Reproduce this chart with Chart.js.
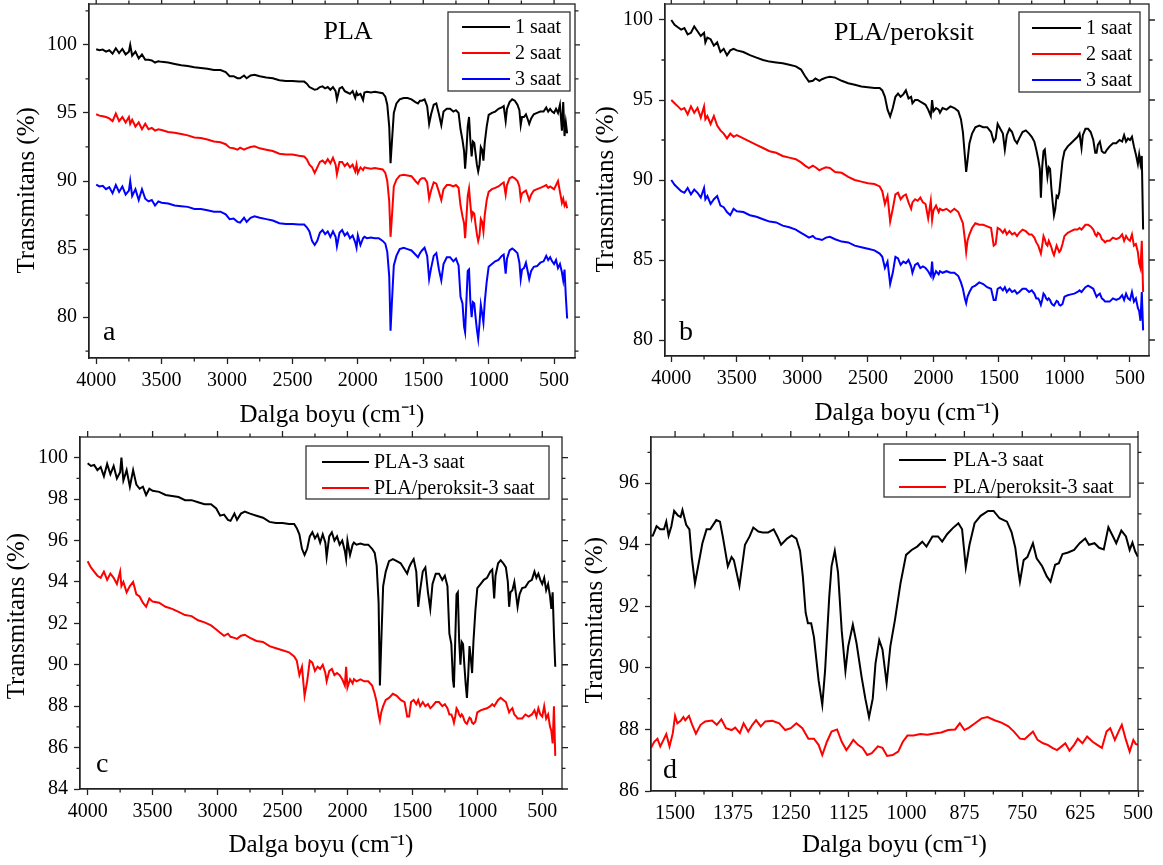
<!DOCTYPE html>
<html><head><meta charset="utf-8">
<script src="https://cdn.jsdelivr.net/npm/chart.js@4.4.0/dist/chart.umd.min.js"></script>
<style>
html,body{margin:0;padding:0;background:#fff;width:1163px;height:865px;overflow:hidden}
canvas{position:absolute}
</style></head><body>
<canvas id="ca" width="580" height="430" style="left:0;top:0"></canvas>
<canvas id="cb" width="583" height="430" style="left:580px;top:0"></canvas>
<canvas id="cc" width="580" height="435" style="left:0;top:430px"></canvas>
<canvas id="cd" width="583" height="435" style="left:580px;top:430px"></canvas>
<script>
// ---------- DATA ----------
const wavenumbers = [
4000,3975,3950,3925,3900,3875,3850,3825,3800,3775,
3750,3740,3725,3700,3675,3650,3625,3600,3575,3550,
3525,3500,3450,3400,3350,3300,3250,3200,3150,3100,
3050,3010,2980,2950,2920,2900,2870,2850,2820,2790,
2750,2700,2650,2600,2550,2500,2450,2410,2390,2370,
2350,2330,2310,2290,2270,2250,2230,2210,2190,2170,
2160,2140,2120,2100,2080,2060,2040,2020,2010,2000,
1980,1960,1950,1930,1900,1870,1840,1810,1790,1775,
1760,1750,1740,1725,1705,1680,1650,1620,1590,1560,
1540,1525,1510,1490,1470,1455,1440,1420,1400,1380,
1362,1345,1320,1295,1270,1250,1230,1215,1200,1188,
1180,1170,1160,1150,1140,1130,1120,1110,1100,1090,
1080,1070,1060,1050,1040,1030,1015,1000,975,950,
925,900,885,870,860,840,820,800,780,765,
755,745,730,715,700,690,675,655,630,605,
580,560,545,530,515,500,485,470,455,440,
430,420,410,400];

// Panel a (PLA)
const plaSaat1 = [
99.68,99.6,99.65,99.5,99.6,99.35,99.75,99.4,99.7,99.3,
99.5,100.0,99.2,99.5,99.0,99.3,98.9,98.9,98.85,98.7,
98.8,98.75,98.7,98.6,98.5,98.45,98.35,98.3,98.25,98.15,
98.15,98.0,97.7,97.7,97.55,97.55,97.75,97.55,97.75,97.8,
97.7,97.6,97.55,97.4,97.35,97.35,97.3,97.3,97.15,96.9,
96.8,96.7,96.75,96.9,96.95,96.8,96.9,96.7,96.9,96.6,
96.0,96.8,96.9,96.6,96.5,96.4,96.6,96.1,96.5,96.3,
96.4,95.95,96.5,96.55,96.5,96.55,96.5,96.45,96.2,95.6,
94.0,91.3,92.8,95.0,95.7,96.0,96.1,96.1,96.0,95.8,
95.7,95.9,95.9,96.0,95.5,94.2,94.9,95.6,95.7,94.9,
94.1,95.1,95.3,95.3,95.1,95.2,95.0,93.8,93.0,92.2,
90.9,92.2,94.0,94.7,93.0,91.8,92.9,92.8,92.0,91.2,
90.7,91.2,92.5,92.3,91.5,92.8,94.0,94.85,95.0,95.1,
95.3,95.4,95.5,94.4,95.3,95.8,96.0,95.9,95.6,95.2,
94.1,94.7,94.7,94.9,94.5,94.2,94.6,94.9,95.0,95.1,
95.1,95.4,95.1,95.3,95.1,95.0,95.3,95.0,95.6,93.7,
95.8,93.3,94.3,93.5];
const plaSaat2 = [
94.9,94.8,94.75,94.7,94.6,94.4,94.95,94.4,94.7,94.3,
94.7,94.2,94.5,94.0,94.3,93.8,94.2,93.8,93.9,93.7,
93.8,93.75,93.6,93.55,93.45,93.35,93.2,93.15,93.05,92.9,
92.85,92.7,92.45,92.4,92.3,92.45,92.3,92.4,92.5,92.55,
92.4,92.3,92.2,92.0,91.95,91.95,91.85,91.8,91.6,91.2,
91.0,90.6,91.0,91.4,91.5,91.3,91.6,91.3,91.7,91.2,
90.5,91.4,91.4,91.1,91.3,91.0,91.2,90.7,91.2,90.6,
91.0,90.8,91.0,90.95,90.9,90.95,90.9,90.85,90.6,90.0,
88.5,85.9,87.3,89.6,90.1,90.4,90.45,90.4,90.35,90.0,
89.8,90.1,90.2,90.2,89.9,88.7,89.3,89.9,89.8,89.2,
88.6,89.4,89.7,89.7,89.6,89.7,89.5,88.2,87.4,86.9,
85.8,87.3,88.9,89.45,88.3,87.3,87.7,87.6,86.8,86.1,
85.6,86.0,87.2,87.0,86.3,87.5,88.6,89.2,89.4,89.5,
89.6,89.8,89.9,89.0,89.7,90.2,90.3,90.2,90.0,89.6,
88.7,89.1,89.2,89.3,88.9,88.6,89.0,89.3,89.4,89.5,
89.6,89.7,89.5,89.6,89.5,89.4,89.7,90.0,89.2,88.4,
88.7,88.2,88.4,88.0];
const plaSaat3 = [
89.73,89.6,89.65,89.4,89.55,89.1,89.7,89.2,89.6,89.0,
89.3,90.0,88.9,89.4,88.6,89.4,88.7,88.5,88.6,88.2,
88.5,88.4,88.35,88.2,88.15,88.1,87.95,87.95,87.85,87.75,
87.75,87.55,87.2,87.25,87.0,86.95,87.3,87.0,87.3,87.4,
87.3,87.2,87.1,86.9,86.85,86.85,86.8,86.8,86.6,86.3,
85.6,85.3,85.6,86.2,86.4,86.1,86.3,85.9,86.3,85.9,
85.2,86.2,86.4,86.0,86.2,85.8,86.0,85.5,85.1,86.0,
85.3,85.8,85.9,85.8,85.85,85.8,85.8,85.6,85.4,84.8,
83.0,79.0,81.0,83.8,84.5,85.0,85.1,85.0,84.9,84.6,
84.4,84.7,84.9,85.1,84.5,82.8,83.6,84.5,84.7,83.5,
82.7,83.9,84.4,84.4,84.1,84.3,83.8,81.5,81.0,79.3,
78.9,81.2,83.4,83.5,81.2,80.0,81.1,81.0,80.0,79.1,
78.4,79.5,80.9,80.3,79.6,81.1,82.6,83.7,83.9,84.1,
84.2,84.5,84.6,83.2,84.3,84.9,85.05,84.9,84.7,84.0,
82.8,83.5,83.6,84.0,83.3,82.8,83.4,83.7,83.75,84.0,
84.1,84.5,84.2,84.4,84.1,83.9,84.2,83.6,83.9,83.3,
82.7,83.5,81.5,79.9];

// Panel b (PLA/peroksit)
const perSaat1 = [
100.0,99.7,99.55,99.4,99.5,99.1,99.2,99.6,99.3,99.0,
99.2,98.6,98.9,98.8,98.4,98.6,98.0,98.2,97.8,98.1,
98.2,98.1,98.0,97.8,97.65,97.5,97.4,97.35,97.3,97.2,
97.1,96.9,96.5,96.15,96.2,96.35,96.2,96.3,96.4,96.45,
96.4,96.2,96.05,95.95,95.85,95.8,95.75,95.75,95.6,95.2,
94.4,93.97,94.5,95.2,95.4,95.2,95.35,95.6,95.1,95.2,
94.8,95.0,95.0,94.9,94.8,94.7,94.4,94.0,95.0,94.3,
94.5,94.4,94.2,94.5,94.4,94.6,94.5,94.3,93.8,93.0,
91.5,90.5,91.2,92.3,92.9,93.3,93.4,93.3,93.3,93.0,
92.4,92.6,93.5,93.2,92.9,91.9,92.8,93.2,93.0,92.5,
92.3,92.6,93.0,93.1,92.9,92.7,92.4,91.9,91.3,90.7,
88.9,90.8,91.8,91.9,91.0,90.2,90.8,90.7,89.5,88.6,
87.8,88.2,89.0,88.9,89.2,90.0,91.2,91.8,92.1,92.3,
92.5,92.7,92.9,92.0,92.8,93.2,93.2,93.0,92.5,91.7,
91.7,92.2,92.4,91.8,91.7,91.7,91.9,92.1,92.3,92.3,
92.5,92.4,92.8,92.4,92.6,92.5,92.7,92.1,91.6,91.0,
91.6,91.0,91.5,86.9];
const perSaat2 = [
95.0,94.8,94.6,94.4,94.5,94.1,94.6,94.2,94.5,93.9,
94.6,93.8,94.0,93.5,94.0,93.4,93.1,92.9,92.6,92.9,
92.7,92.8,92.6,92.4,92.2,92.0,91.8,91.7,91.5,91.4,
91.3,91.1,90.9,90.75,90.9,90.8,90.6,90.7,90.8,90.75,
90.5,90.45,90.2,90.0,89.9,89.8,89.75,89.6,89.3,88.5,
89.0,87.4,88.2,89.1,89.2,88.8,89.0,89.1,88.6,88.2,
88.6,88.8,88.7,88.9,88.6,88.5,87.6,88.7,87.5,88.1,
88.4,88.0,88.2,88.1,88.2,88.0,88.2,88.0,87.6,87.3,
86.3,85.5,86.2,86.6,87.0,87.3,87.2,87.2,87.1,87.0,
85.9,86.0,87.0,86.9,86.7,86.9,86.6,86.8,86.6,86.7,
86.5,86.7,86.9,86.8,86.6,86.6,86.4,86.1,85.9,85.6,
85.4,85.9,86.5,86.3,86.0,85.9,86.2,86.0,85.8,85.5,
85.3,85.6,85.9,85.7,85.5,85.6,86.0,86.5,86.7,86.8,
86.9,86.9,87.0,86.9,87.0,87.2,87.2,87.1,86.9,86.6,
86.5,86.7,86.6,86.3,86.2,86.1,86.2,86.2,86.4,86.3,
86.4,86.6,86.2,86.5,86.3,86.2,86.6,85.9,86.0,85.5,
84.8,84.5,86.2,83.0];
const perSaat3 = [
90.0,89.7,89.5,89.3,89.2,89.5,89.1,89.4,89.2,88.9,
89.5,88.8,89.0,88.5,88.8,89.0,88.4,88.3,88.0,87.8,
88.2,88.05,88.0,87.8,87.7,87.55,87.4,87.35,87.15,87.05,
86.9,86.7,86.55,86.4,86.5,86.35,86.3,86.25,86.4,86.45,
86.3,86.15,86.1,85.9,85.8,85.7,85.6,85.4,85.2,84.5,
84.9,83.5,84.2,85.2,85.1,84.7,84.9,84.8,85.0,84.6,
84.2,84.7,84.8,84.5,84.6,84.5,84.3,84.0,84.9,83.9,
84.3,84.1,84.3,84.2,84.3,84.2,84.2,84.0,83.6,83.2,
82.6,82.3,82.7,83.0,83.3,83.4,83.6,83.5,83.3,83.2,
82.5,82.5,83.2,83.3,83.1,83.3,83.0,83.2,83.0,83.1,
82.9,83.0,83.2,83.2,83.0,83.1,82.9,82.6,82.6,82.4,
82.2,82.5,82.9,82.8,82.6,82.5,82.6,82.5,82.3,82.2,
82.15,82.3,82.45,82.4,82.2,82.15,82.25,82.7,82.8,82.85,
82.9,83.0,83.1,83.0,83.1,83.3,83.4,83.3,83.2,82.9,
82.7,82.8,82.9,82.6,82.5,82.4,82.4,82.4,82.6,82.5,
82.6,82.8,82.5,82.9,82.6,82.5,83.0,82.4,82.6,82.0,
81.8,81.2,83.0,80.6];

// Panel c (3 saat comparison)
const cPla3 = [
99.73,99.6,99.65,99.4,99.55,99.1,99.7,99.2,99.6,99.0,
99.3,100.0,98.9,99.4,98.6,99.4,98.7,98.5,98.6,98.2,
98.5,98.4,98.35,98.2,98.15,98.1,97.95,97.95,97.85,97.75,
97.75,97.55,97.2,97.25,97.0,96.95,97.3,97.0,97.3,97.4,
97.3,97.2,97.1,96.9,96.85,96.85,96.8,96.8,96.6,96.3,
95.6,95.3,95.6,96.2,96.4,96.1,96.3,95.9,96.3,95.9,
95.2,96.2,96.4,96.0,96.2,95.8,96.0,95.5,95.1,96.0,
95.3,95.8,95.9,95.8,95.85,95.8,95.8,95.6,95.4,94.8,
93.0,89.0,91.0,93.8,94.5,95.0,95.1,95.0,94.9,94.6,
94.4,94.7,94.9,95.1,94.5,92.8,93.6,94.5,94.7,93.5,
92.7,93.9,94.4,94.4,94.1,94.3,93.8,91.5,91.0,89.3,
88.9,91.2,93.4,93.5,91.2,90.0,91.1,91.0,90.0,89.1,
88.4,89.5,90.9,90.3,89.6,91.1,92.6,93.7,93.9,94.1,
94.2,94.5,94.6,93.2,94.3,94.9,95.05,94.9,94.7,94.0,
92.8,93.5,93.6,94.0,93.3,92.8,93.4,93.7,93.75,94.0,
94.1,94.5,94.2,94.4,94.1,93.9,94.2,93.6,93.9,93.3,
92.7,93.5,91.5,89.9];
const cPer3 = [
95.0,94.7,94.5,94.3,94.2,94.5,94.1,94.4,94.2,93.9,
94.5,93.8,94.0,93.5,93.8,94.0,93.4,93.3,93.0,92.8,
93.2,93.05,93.0,92.8,92.7,92.55,92.4,92.35,92.15,92.05,
91.9,91.7,91.55,91.4,91.5,91.35,91.3,91.25,91.4,91.45,
91.3,91.15,91.1,90.9,90.8,90.7,90.6,90.4,90.2,89.5,
89.9,88.5,89.2,90.2,90.1,89.7,89.9,89.8,90.0,89.6,
89.2,89.7,89.8,89.5,89.6,89.5,89.3,89.0,89.9,88.9,
89.3,89.1,89.3,89.2,89.3,89.2,89.2,89.0,88.6,88.2,
87.6,87.3,87.7,88.0,88.3,88.4,88.6,88.5,88.3,88.2,
87.5,87.5,88.2,88.3,88.1,88.3,88.0,88.2,88.0,88.1,
87.9,88.0,88.2,88.2,88.0,88.1,87.9,87.6,87.6,87.4,
87.2,87.5,87.9,87.8,87.6,87.5,87.6,87.5,87.3,87.2,
87.15,87.3,87.45,87.4,87.2,87.15,87.25,87.7,87.8,87.85,
87.9,88.0,88.1,88.0,88.1,88.3,88.4,88.3,88.2,87.9,
87.7,87.8,87.9,87.6,87.5,87.4,87.4,87.4,87.6,87.5,
87.6,87.8,87.5,87.9,87.6,87.5,88.0,87.4,87.6,87.0,
86.8,86.2,88.0,85.6];

// Panel d (1550-500 cm-1 detail)
const dWaveBlack = [
1552,1548,1540,1532,1524,1519,1514,1508,1502,1494,
1488,1484,1476,1469,1464,1457,1449,1441,1432,1424,
1411,1403,1397,1386,1378,1373,1361,1349,1339,1331,
1320,1311,1299,1287,1279,1271,1258,1248,1238,1230,
1224,1218,1213,1206,1200,1190,1182,1176,1167,1162,
1155,1148,1140,1132,1126,1116,1108,1097,1089,1081,
1073,1067,1059,1052,1043,1035,1025,1013,1001,989,
977,966,957,944,932,923,912,900,888,880,
872,864,853,840,824,812,799,783,773,765,
759,755,747,739,727,719,707,697,689,679,
671,663,651,638,626,614,606,594,584,574,
564,554,547,536,526,518,512,506,500];
const dPla3 = [
94.29,94.3,94.6,94.5,94.5,94.75,94.3,94.6,95.1,94.95,
94.9,95.13,94.65,94.5,93.6,92.75,93.4,94.05,94.5,94.5,
94.8,94.75,94.27,93.3,93.6,93.5,92.67,94.0,94.27,94.56,
94.43,94.4,94.4,94.5,94.27,94.0,94.2,94.3,94.2,93.8,
92.97,91.8,91.45,91.45,91.0,89.6,88.8,89.9,92.3,93.3,
93.8,93.1,91.2,89.9,90.7,91.4,90.8,89.7,89.0,88.4,
89.0,90.15,90.9,90.6,89.5,90.7,91.56,92.75,93.67,93.83,
93.94,94.1,93.94,94.27,94.27,94.1,94.35,94.54,94.7,94.5,
93.27,94.0,94.7,94.94,95.1,95.1,94.86,94.75,94.4,93.9,
93.2,92.8,93.5,93.6,94.05,93.56,93.3,92.97,92.8,93.35,
93.4,93.7,93.75,93.83,94.05,94.2,94.0,94.05,93.9,93.85,
94.57,94.27,94.05,94.46,94.27,93.83,94.07,93.78,93.6];
const dWaveRed = [
1552,1545,1538,1532,1525,1519,1512,1505,1500,1495,
1488,1482,1478,1470,1463,1455,1445,1435,1420,1410,
1400,1390,1378,1370,1360,1352,1342,1333,1325,1315,
1305,1290,1275,1262,1250,1238,1225,1212,1200,1190,
1182,1172,1162,1150,1140,1130,1122,1115,1105,1095,
1085,1075,1062,1052,1042,1030,1018,1008,998,985,
970,955,940,925,910,895,885,875,865,852,
838,825,810,795,780,768,755,745,735,727,
717,705,695,685,675,665,657,648,638,630,
620,610,598,588,578,568,560,550,542,535,
527,518,510,505,500];
const dPer3 = [
87.4,87.6,87.7,87.45,87.66,87.85,87.45,87.87,88.44,88.2,
88.28,88.4,88.3,88.44,88.15,87.86,88.15,88.26,88.29,88.15,
88.33,88.04,87.98,88.06,87.88,88.2,87.93,88.15,88.3,88.1,
88.26,88.28,88.2,87.98,88.04,88.2,88.04,87.7,87.7,87.5,
87.17,87.6,87.93,88.0,87.6,87.33,87.5,87.66,87.5,87.4,
87.17,87.23,87.45,87.4,87.14,87.17,87.28,87.6,87.8,87.8,
87.85,87.83,87.87,87.9,87.98,88.0,88.2,87.98,88.06,88.2,
88.36,88.4,88.3,88.22,88.1,87.93,87.7,87.68,87.82,87.93,
87.66,87.55,87.5,87.4,87.33,87.45,87.55,87.31,87.5,87.7,
87.55,87.77,87.6,87.5,87.4,87.93,88.04,87.66,87.93,88.15,
87.71,87.28,87.66,87.53,87.5];

// Tick values
const fullXTicks = [4000,3500,3000,2500,2000,1500,1000,500];
const fullXMinor = [3750,3250,2750,2250,1750,1250,750];
const abYTicks = [80,85,90,95,100];
const aYMinor = [77.5,82.5,87.5,92.5,97.5,102.5];
const bYMinor = [82.5,87.5,92.5,97.5];
const cYTicks = [84,86,88,90,92,94,96,98,100];
const cYMinor = [85,87,89,91,93,95,97,99];
const dXTicks = [1500,1375,1250,1125,1000,875,750,625,500];
const dXMinor = [1437.5,1312.5,1187.5,1062.5,937.5,812.5,687.5,562.5];
const dYTicks = [86,88,90,92,94,96];
const dYMinor = [87,89,91,93,95,97];

const timeLabels = ['1 saat','2 saat','3 saat'];
const compLabels = ['PLA-3 saat','PLA/peroksit-3 saat'];

// ---------- RENDER ----------
const FONT = "'Liberation Serif','Times New Roman',serif";
const BLACK = '#000000', RED = '#ff0000', BLUE = '#0000ff';
const pairs = (xs, ys) => xs.map((x, i) => ({x: x, y: ys[i]}));
const ds = (label, xs, ys, color) => ({label, data: pairs(xs, ys), borderColor: color, backgroundColor: color, borderWidth: 2, pointRadius: 0, tension: 0, fill: false});

const decor = {
  id: 'decor',
  afterDraw(chart, args, o) {
    const {ctx, chartArea: ca} = chart;
    const x = chart.scales.x, y = chart.scales.y;
    ctx.save();
    ctx.strokeStyle = '#222'; ctx.lineWidth = 1.3;
    ctx.strokeRect(ca.left, ca.top, ca.right - ca.left, ca.bottom - ca.top);
    ctx.beginPath();
    o.xMinor.forEach(v => { const p = x.getPixelForValue(v);
      ctx.moveTo(p, ca.bottom); ctx.lineTo(p, ca.bottom + 3.5);
      ctx.moveTo(p, ca.top); ctx.lineTo(p, ca.top - 3.5); });
    o.xTicks.forEach(v => { const p = x.getPixelForValue(v);
      ctx.moveTo(p, ca.top); ctx.lineTo(p, ca.top - 6); });
    o.yMinor.forEach(v => { const p = y.getPixelForValue(v);
      ctx.moveTo(ca.left, p); ctx.lineTo(ca.left - 3.5, p);
      ctx.moveTo(ca.right, p); ctx.lineTo(ca.right + 3.5, p); });
    o.yTicks.forEach(v => { const p = y.getPixelForValue(v);
      ctx.moveTo(ca.right, p); ctx.lineTo(ca.right + 6, p); });
    ctx.stroke();
    ctx.fillStyle = '#000';
    if (o.title) {
      ctx.font = '26px ' + FONT; ctx.textAlign = 'center'; ctx.textBaseline = 'middle';
      ctx.fillText(o.title.text, o.title.x, o.title.y);
    }
    ctx.font = '28px ' + FONT; ctx.textAlign = 'left'; ctx.textBaseline = 'alphabetic';
    ctx.fillText(o.letter.text, o.letter.x, o.letter.y);
    const L = o.legend;
    ctx.strokeStyle = '#333'; ctx.lineWidth = 1.3;
    ctx.strokeRect(L.box[0], L.box[1], L.box[2], L.box[3]);
    ctx.font = '20px ' + FONT; ctx.textBaseline = 'middle'; ctx.textAlign = 'left';
    chart.data.datasets.forEach((d, i) => {
      ctx.strokeStyle = d.borderColor; ctx.lineWidth = 2;
      ctx.beginPath(); ctx.moveTo(L.lx[0], L.rows[i]); ctx.lineTo(L.lx[1], L.rows[i]); ctx.stroke();
      ctx.fillStyle = '#000'; ctx.fillText(d.label, L.tx, L.rows[i] + 1);
    });
    ctx.restore();
  }
};

function noPad(s) { s.paddingTop = 0; s.paddingBottom = 0; s.paddingLeft = 0; s.paddingRight = 0; }

function panel(id, c) {
  const tickFont = {family: FONT, size: 20};
  return new Chart(document.getElementById(id), {
    type: 'line',
    data: {datasets: c.datasets},
    options: {
      responsive: false, animation: false, devicePixelRatio: 1,
      layout: {padding: c.pad},
      plugins: {legend: {display: false}, tooltip: {enabled: false},
        decor: {xTicks: c.xTicks, xMinor: c.xMinor, yTicks: c.yTicks, yMinor: c.yMinor,
                title: c.title, letter: c.letter, legend: c.legend}},
      scales: {
        x: {type: 'linear', reverse: true, min: c.xMin, max: c.xMax,
          afterBuildTicks: s => { s.ticks = c.xTicks.map(v => ({value: v})); },
          afterFit: s => { s.height = c.xH; noPad(s); },
          ticks: {font: tickFont, color: '#000', padding: 5, maxRotation: 0, autoSkip: false, callback: v => String(v)},
          grid: {display: true, drawOnChartArea: false, drawTicks: true, tickLength: 6, tickWidth: 1.3, tickColor: '#222'},
          border: {display: true, color: '#222', width: 1.3},
          title: {display: true, text: 'Dalga boyu (cm\u207B\u00B9)', color: '#000', font: {family: FONT, size: 25}, padding: {top: 0, bottom: c.xTitlePad}}
        },
        y: {type: 'linear', min: c.yMin, max: c.yMax,
          afterBuildTicks: s => { s.ticks = c.yTicks.map(v => ({value: v})); },
          afterFit: s => { s.width = c.yW; noPad(s); },
          ticks: {font: tickFont, color: '#000', padding: 6, autoSkip: false, callback: v => String(v)},
          grid: {display: true, drawOnChartArea: false, drawTicks: true, tickLength: 6, tickWidth: 1.3, tickColor: '#222'},
          border: {display: true, color: '#222', width: 1.3},
          title: {display: true, text: c.yTitle, color: '#000', font: {family: FONT, size: 25}, padding: {top: c.yTitlePad, bottom: 0}}
        }
      }
    },
    plugins: [decor]
  });
}

panel('ca', {
  datasets: [ds(timeLabels[0], wavenumbers, plaSaat1, BLACK), ds(timeLabels[1], wavenumbers, plaSaat2, RED), ds(timeLabels[2], wavenumbers, plaSaat3, BLUE)],
  pad: {left: 0, top: 4, right: 5, bottom: 0}, yW: 89, xH: 72,
  xMin: 340, xMax: 4055, yMin: 77, yMax: 103,
  xTicks: fullXTicks, xMinor: fullXMinor, yTicks: abYTicks, yMinor: aYMinor,
  xTitlePad: 0, yTitlePad: 12, yTitle: 'Transmitans (%)   ',
  title: {text: 'PLA', x: 348, y: 32}, letter: {text: 'a', x: 103, y: 340},
  legend: {box: [448, 12, 122, 79], lx: [462, 510], tx: 515, rows: [27, 53, 79]}
});
panel('cb', {
  datasets: [ds(timeLabels[0], wavenumbers, perSaat1, BLACK), ds(timeLabels[1], wavenumbers, perSaat2, RED), ds(timeLabels[2], wavenumbers, perSaat3, BLUE)],
  pad: {left: 0, top: 4, right: 14, bottom: 0}, yW: 85, xH: 74,
  xMin: 355, xMax: 4048, yMin: 79, yMax: 101,
  xTicks: fullXTicks, xMinor: fullXMinor, yTicks: abYTicks, yMinor: bYMinor,
  xTitlePad: 2, yTitlePad: 11, yTitle: 'Transmitans (%)   ',
  title: {text: 'PLA/peroksit', x: 324, y: 33}, letter: {text: 'b', x: 99, y: 340},
  legend: {box: [439, 12, 121, 80], lx: [452, 501], tx: 506, rows: [28, 54, 80]}
});
panel('cc', {
  datasets: [ds(compLabels[0], wavenumbers, cPla3, BLACK), ds(compLabels[1], wavenumbers, cPer3, RED)],
  pad: {left: 0, top: 7, right: 18, bottom: 0}, yW: 80, xH: 76,
  xMin: 348, xMax: 4059, yMin: 84, yMax: 101,
  xTicks: fullXTicks, xMinor: fullXMinor, yTicks: cYTicks, yMinor: cYMinor,
  xTitlePad: 5, yTitlePad: 2, yTitle: 'Transmitans (%) ',
  title: null, letter: {text: 'c', x: 96, y: 342},
  legend: {box: [306, 16, 243, 53], lx: [322, 369], tx: 374, rows: [32, 58]}
});
panel('cd', {
  datasets: [ds(compLabels[0], dWaveBlack, dPla3, BLACK), ds(compLabels[1], dWaveRed, dPer3, RED)],
  pad: {left: 0, top: 7, right: 25, bottom: 0}, yW: 71, xH: 74,
  xMin: 500, xMax: 1552, yMin: 86, yMax: 97.5,
  xTicks: dXTicks, xMinor: dXMinor, yTicks: dYTicks, yMinor: dYMinor,
  xTitlePad: 5, yTitlePad: 0, yTitle: 'Transmitans (%)  ',
  title: null, letter: {text: 'd', x: 83, y: 348},
  legend: {box: [304, 14, 246, 53], lx: [319, 366], tx: 373, rows: [30, 57]}
});
</script>
</body></html>
